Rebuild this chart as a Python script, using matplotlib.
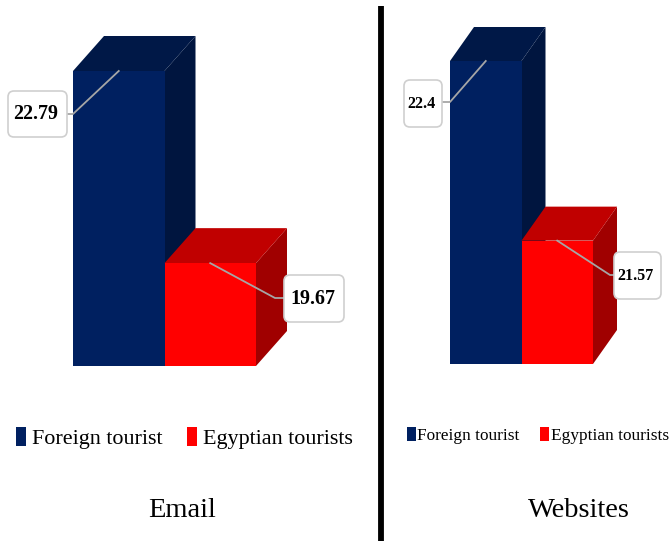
import matplotlib
matplotlib.use('Agg')
import matplotlib.pyplot as plt
from matplotlib.lines import Line2D
from matplotlib.patches import FancyBboxPatch, Polygon
from matplotlib.transforms import IdentityTransform

W, H = 672, 541

series_names = ['Foreign tourist', 'Egyptian tourists']
email_values = [22.79, 19.67]
email_labels = ['22.79', '19.67']
website_values = [22.4, 21.57]
website_labels = ['22.4', '21.57']

front_colors = ['#002060', '#ff0000']
top_colors = ['#001847', '#c00000']
side_colors = ['#00153f', '#a00000']

plt.rcParams['font.family'] = ['Liberation Serif', 'DejaVu Serif']


def px_axes(fig, left, right, top, bottom):
    # pixel box measured from the top left of the picture
    ax = fig.add_axes([left / W, 1 - bottom / H, (right - left) / W, (bottom - top) / H])
    ax.axis('off')
    return ax


def draw_bars(ax, values, base, dx, dy):
    for i, val in enumerate(values):
        left_top = ax.transData.transform((i - 0.5, val))
        right_top = ax.transData.transform((i + 0.5, val))
        right_low = ax.transData.transform((i + 0.5, base))
        top_poly = [left_top, right_top, right_top + (dx, dy), left_top + (dx, dy)]
        side_poly = [right_top, right_low, right_low + (dx, dy), right_top + (dx, dy)]
        ax.add_patch(Polygon(side_poly, closed=True, fc=side_colors[i], ec='none',
                             transform=IdentityTransform(), clip_on=False, zorder=2 + i * 2))
        ax.add_patch(Polygon(top_poly, closed=True, fc=top_colors[i], ec='none',
                             transform=IdentityTransform(), clip_on=False, zorder=2 + i * 2))
        ax.bar(i, val - base, bottom=base, width=1, color=front_colors[i], label=series_names[i],
               linewidth=0, clip_on=False, zorder=3 + i * 2)


def label_bar(ax, i, val, text, box, elbow_x, elbow_y, size):
    # box is left, right, top, bottom in picture pixels, the leader ends on its nearer side
    xa, ya = ax.transData.transform((i, val))
    left, right, top, bottom = box
    end_x = right if elbow_x < xa else left
    ax.add_line(Line2D([xa, elbow_x, end_x], [ya, H - elbow_y, H - elbow_y], color='#a6a6a6', lw=1.3,
                       transform=IdentityTransform(), clip_on=False, zorder=8))
    ax.add_patch(FancyBboxPatch((left + 5, H - bottom + 5), right - left - 10, bottom - top - 10,
                                boxstyle='round,pad=5,rounding_size=6', fc='white', ec='#cfcfcf', lw=1.2,
                                transform=IdentityTransform(), clip_on=False, zorder=9))
    ax.text((left + right) / 2 - 1.5, H - (top + bottom) / 2, text, ha='center', va='center', fontsize=size,
            fontweight='bold', color='black', transform=IdentityTransform(), zorder=10)


def draw_legend(ax, x, y, size, handle, pad, spacing):
    ax.legend(loc='lower left', bbox_to_anchor=(x, H - y), bbox_transform=IdentityTransform(),
              ncols=2, frameon=False, fontsize=size, handlelength=handle, handleheight=0.9,
              handletextpad=pad, columnspacing=spacing, borderpad=0, borderaxespad=0)


fig = plt.figure(figsize=(W / 100, H / 100), dpi=100, facecolor='white')

ax1 = px_axes(fig, 73, 256, 71, 366)
ax1.set_xlim(-0.5, 1.5)
ax1.set_ylim(18, email_values[0])
draw_bars(ax1, email_values, 18, 31, 35)
label_bar(ax1, 0, email_values[0], email_labels[0], (8, 67, 91, 137), 73, 114, 14.4)
label_bar(ax1, 1, email_values[1], email_labels[1], (284, 344, 275, 322), 275, 298, 14.4)
draw_legend(ax1, 16, 449, 15.9, 0.45, 0.27, 1.13)

ax2 = px_axes(fig, 450, 593, 61, 364)
ax2.set_xlim(-0.5, 1.5)
ax2.set_ylim(21, website_values[0])
draw_bars(ax2, website_values, 21, 24, 34)
label_bar(ax2, 0, website_values[0], website_labels[0], (404, 442, 80, 127), 450, 102, 11.5)
label_bar(ax2, 1, website_values[1], website_labels[1], (614, 661, 252, 299), 610, 275, 11.5)
draw_legend(ax2, 407, 444, 12.4, 0.5, 0.1, 1.2)

fig.text(182 / W, 1 - 517 / H, 'Email', ha='center', va='baseline', fontsize=20.5)
fig.text(579 / W, 1 - 517 / H, 'Websites', ha='center', va='baseline', fontsize=20.5)

fig.add_artist(Line2D([381 / W, 381 / W], [0, 1 - 6 / H], color='black', lw=4.2, solid_capstyle='butt'))

fig.savefig('out.png', dpi=100)
